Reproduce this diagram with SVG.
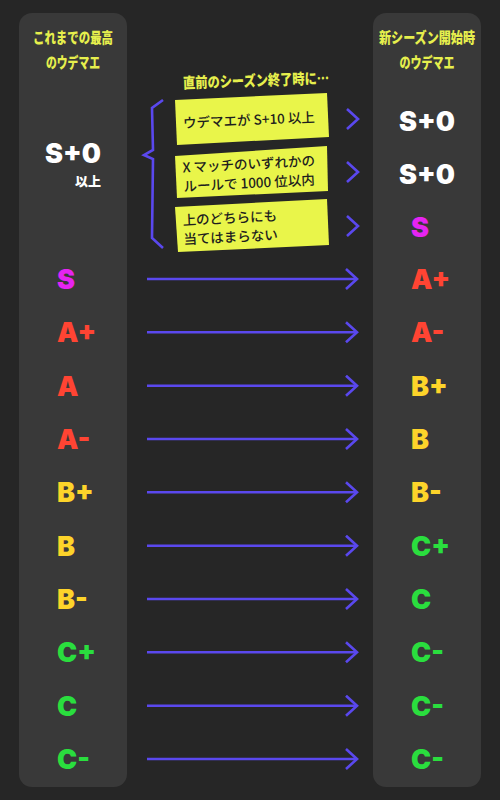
<svg xmlns="http://www.w3.org/2000/svg" width="500" height="800" viewBox="0 0 500 800">
<defs>
<style>
.bg{fill:#262626}
.col{fill:#393939}
.hdr{fill:#e6ef4d;font-family:"Noto Sans CJK JP","Noto Sans",sans-serif;font-weight:900;font-size:15px;text-anchor:middle}
.box{fill:#e9f54a}
.bt{fill:#1e1e1e;font-family:"Noto Sans CJK JP","Noto Sans",sans-serif;font-weight:500;font-size:13.5px}
.rk{font-family:Inter,Lato,"DejaVu Sans",sans-serif;font-weight:900;font-size:27px}
.s{fill:#e524f2}.a{fill:#ff4433}.b{fill:#fdd42a}.c{fill:#2ade3e}.w{fill:#ffffff}
.ar{stroke:#5a48ee;stroke-width:2.6;fill:none}
</style>
<marker id="head" markerUnits="userSpaceOnUse" markerWidth="16" markerHeight="26" refX="12" refY="11" orient="auto" viewBox="0 0 16 26">
<path d="M1,1 L12,11 L1,21" fill="none" stroke="#5a48ee" stroke-width="2.6"/>
</marker>
<path id="chev" d="M-11,-10 L0,0 L-11,10" class="ar"/>
</defs>
<rect class="bg" x="0" y="0" width="500" height="800"/>

<g id="col-left">
<rect class="col" x="19" y="13" width="108" height="774" rx="13"/>
<text class="hdr" x="73" y="43" textLength="80" lengthAdjust="spacingAndGlyphs">これまでの最高</text>
<text class="hdr" x="73" y="68" textLength="54" lengthAdjust="spacingAndGlyphs">のウデマエ</text>
</g>
<g id="col-right">
<rect class="col" x="373" y="13" width="108" height="774" rx="13"/>
<text class="hdr" x="427" y="43" textLength="96" lengthAdjust="spacingAndGlyphs">新シーズン開始時</text>
<text class="hdr" x="427" y="68" textLength="55" lengthAdjust="spacingAndGlyphs">のウデマエ</text>
</g>

<g id="caption">
<text class="hdr" x="256" y="86" font-size="16" textLength="146" lengthAdjust="spacingAndGlyphs" transform="rotate(-2 256 80)">直前のシーズン終了時に…</text>
</g>

<g id="src-splus">
<text class="rk w" x="73" y="163" text-anchor="middle">S+0</text>
<text class="w" x="88" y="186" text-anchor="middle" font-family="Noto Sans CJK JP, sans-serif" font-weight="900" font-size="13">以上</text>
</g>

<g id="brace">
<path d="M163,100 L152,108 L153,150 L144,155 L153,159 L152,238 L163,248" class="ar" stroke-width="3"/>
</g>

<g id="cond1">
<polygon class="box" points="175,100 327,93 329,137 177,145"/>
<text class="bt" x="183" y="125" transform="rotate(-2.6 250 120)">ウデマエが S+10 以上</text>
</g>
<g id="cond2">
<polygon class="box" points="175,156 327,146 328,191 177,198"/>
<text class="bt" x="183" y="169" transform="rotate(-3 250 175)">X マッチのいずれかの</text>
<text class="bt" x="183" y="188" transform="rotate(-3 250 175)">ルールで 1000 位以内</text>
</g>
<g id="cond3">
<polygon class="box" points="175,207 327,199 329,245 178,252"/>
<text class="bt" x="183" y="222" transform="rotate(-2.8 250 226)">上のどちらにも</text>
<text class="bt" x="183" y="241" transform="rotate(-2.8 250 226)">当てはまらない</text>
</g>

<g id="dst-top">
<text class="rk w" x="427" y="131" text-anchor="middle">S+0</text>
<text class="rk w" x="427" y="184" text-anchor="middle">S+0</text>
<text class="rk s" x="411" y="237">S</text>
</g>

<g id="src-ranks" class="rk">
<text class="s" x="57" y="289">S</text>
<text class="a" x="57" y="342">A+</text>
<text class="a" x="57" y="396">A</text>
<text class="a" x="57" y="449">A-</text>
<text class="b" x="57" y="502">B+</text>
<text class="b" x="57" y="556">B</text>
<text class="b" x="57" y="609">B-</text>
<text class="c" x="57" y="662">C+</text>
<text class="c" x="57" y="716">C</text>
<text class="c" x="57" y="769">C-</text>
</g>

<g id="dst-ranks" class="rk">
<text class="a" x="411" y="289">A+</text>
<text class="a" x="411" y="342">A-</text>
<text class="b" x="411" y="396">B+</text>
<text class="b" x="411" y="449">B</text>
<text class="b" x="411" y="502">B-</text>
<text class="c" x="411" y="556">C+</text>
<text class="c" x="411" y="609">C</text>
<text class="c" x="411" y="662">C-</text>
<text class="c" x="411" y="716">C-</text>
<text class="c" x="411" y="769">C-</text>
</g>

<g id="connectors">
<use href="#chev" x="358" y="119"/>
<use href="#chev" x="358" y="172"/>
<use href="#chev" x="358" y="226"/>
<path class="ar" marker-end="url(#head)" d="M147,279 H357"/>
<path class="ar" marker-end="url(#head)" d="M147,332.3 H357"/>
<path class="ar" marker-end="url(#head)" d="M147,385.7 H357"/>
<path class="ar" marker-end="url(#head)" d="M147,439 H357"/>
<path class="ar" marker-end="url(#head)" d="M147,492.3 H357"/>
<path class="ar" marker-end="url(#head)" d="M147,545.7 H357"/>
<path class="ar" marker-end="url(#head)" d="M147,599 H357"/>
<path class="ar" marker-end="url(#head)" d="M147,652.3 H357"/>
<path class="ar" marker-end="url(#head)" d="M147,705.7 H357"/>
<path class="ar" marker-end="url(#head)" d="M147,759 H357"/>
</g>
</svg>
